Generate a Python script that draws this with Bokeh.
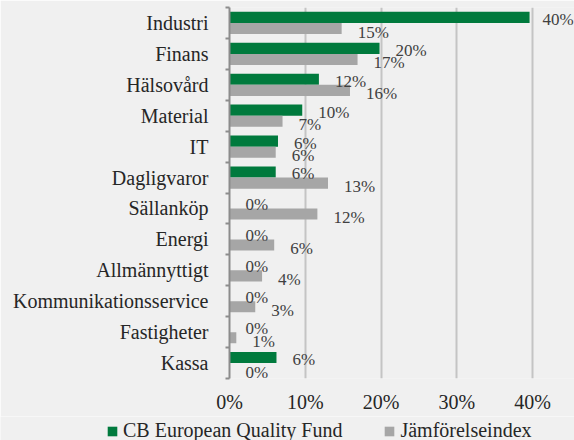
from bokeh.plotting import figure
from bokeh.models import (Range1d, FixedTicker, ColumnDataSource, Legend, LegendItem)
from bokeh.layouts import column
from bokeh.core.properties import value
from bokeh.embed import file_html
from bokeh.resources import INLINE

# ---- data ----
categories = ["Industri", "Finans", "Hälsovård", "Material", "IT", "Dagligvaror",
              "Sällanköp", "Energi", "Allmännyttigt", "Kommunikationsservice",
              "Fastigheter", "Kassa"]
fund = [39.6, 19.8, 11.8, 9.6, 6.4, 6.1, 0.0, 0.0, 0.0, 0.0, 0.0, 6.2]
index = [14.8, 16.9, 15.9, 7.0, 6.1, 13.0, 11.6, 5.9, 4.3, 3.4, 0.9, 0.0]
x_ticks = [0, 10, 20, 30, 40]
series_names = ["CB European Quality Fund", "Jämförelseindex"]

GREEN = "#007A3D"
GREY = "#A6A6A6"
BG = "#F0F0F0"
FONT = "Liberation Serif"

n = len(categories)
centers = [n - i - 0.5 for i in range(n)]
bar_h = 0.36
off = 0.18

def lab(v):
    return f"{int(round(v))}%"

def xoff(v):
    return 16 if v < 35 else 13

src_f = ColumnDataSource(dict(y=[c + off for c in centers], x=fund,
                              lab=[lab(v) for v in fund], xo=[xoff(v) for v in fund]))
src_i = ColumnDataSource(dict(y=[c - off for c in centers], x=index,
                              lab=[lab(v) for v in index], xo=[xoff(v) for v in index]))

p = figure(width=574, height=416, output_backend="svg", toolbar_location=None,
           x_range=Range1d(0, 45.53), y_range=Range1d(0, n),
           min_border_left=229, min_border_right=0, min_border_top=7, min_border_bottom=38)
p.frame_align = False
p.background_fill_color = BG
p.border_fill_color = BG
p.outline_line_color = None

r_f = p.hbar(y="y", right="x", left=0, height=bar_h, source=src_f,
             fill_color=GREEN, line_color=None)
r_i = p.hbar(y="y", right="x", left=0, height=bar_h, source=src_i,
             fill_color=GREY, line_color=None)

p.text(x="x", y="y", text="lab", source=src_f, x_offset="xo", y_offset=2,
       text_font=value(FONT), text_font_size="17px", text_color="#404040",
       text_baseline="middle", text_align="left")
p.text(x="x", y="y", text="lab", source=src_i, x_offset="xo", y_offset=3.5,
       text_font=value(FONT), text_font_size="17px", text_color="#404040",
       text_baseline="middle", text_align="left")

# x axis
xa = p.xaxis[0]
xa.ticker = FixedTicker(ticks=x_ticks)
xa.major_label_overrides = {t: f"{t}%" for t in x_ticks}
xa.axis_line_color = None
xa.major_tick_line_color = None
xa.minor_tick_line_color = None
xa.major_tick_out = 0
xa.major_tick_in = 0
xa.major_label_standoff = 12
xa.major_label_text_font = FONT
xa.major_label_text_font_size = "20px"
xa.major_label_text_color = "#262626"

# y axis
ya = p.yaxis[0]
ya.ticker = FixedTicker(ticks=centers, minor_ticks=list(range(n + 1)))
ya.major_label_overrides = {c: name for c, name in zip(centers, categories)}
ya.major_tick_line_color = None
ya.major_tick_out = 0
ya.major_tick_in = 0
ya.minor_tick_out = 4
ya.minor_tick_in = 0
ya.minor_tick_line_color = "#8C8C8C"
ya.minor_tick_line_width = 2
ya.axis_line_color = "#8C8C8C"
ya.axis_line_width = 2
ya.major_label_standoff = 17
ya.major_label_text_font = FONT
ya.major_label_text_font_size = "20px"
ya.major_label_text_color = "#262626"

p.xgrid.ticker = FixedTicker(ticks=x_ticks[1:])
p.xgrid.grid_line_color = "#C4C4C4"
p.xgrid.grid_line_width = 2
p.ygrid.grid_line_color = None

# legend strip (second figure sharing the same sources, bars kept out of view)
p2 = figure(width=574, height=24, output_backend="svg", toolbar_location=None,
            x_range=Range1d(0, 1), y_range=Range1d(100, 101),
            x_axis_type=None, y_axis_type=None,
            min_border_left=0, min_border_right=0, min_border_top=0, min_border_bottom=0)
p2.frame_align = False
p2.background_fill_color = BG
p2.border_fill_color = BG
p2.outline_line_color = None
p2.grid.grid_line_color = None
l_f = p2.hbar(y="y", right="x", left=0, height=bar_h, source=src_f,
              fill_color=GREEN, line_color=None)
l_i = p2.hbar(y="y", right="x", left=0, height=bar_h, source=src_i,
              fill_color=GREY, line_color=None)

legend = Legend(items=[LegendItem(label=series_names[0], renderers=[l_f]),
                       LegendItem(label=series_names[1], renderers=[l_i])],
                orientation="horizontal", location=(106, -2))
legend.border_line_color = None
legend.background_fill_alpha = 0
legend.label_text_font = FONT
legend.label_text_font_size = "20px"
legend.label_text_color = "#262626"
legend.label_height = 20
legend.glyph_width = 12
legend.glyph_height = 12
legend.label_standoff = 5
legend.spacing = 41
legend.padding = 0
legend.margin = 0
p2.add_layout(legend, "center")

layout = column(p, p2, spacing=0)
open("out.html", "w").write(file_html(layout, INLINE))
